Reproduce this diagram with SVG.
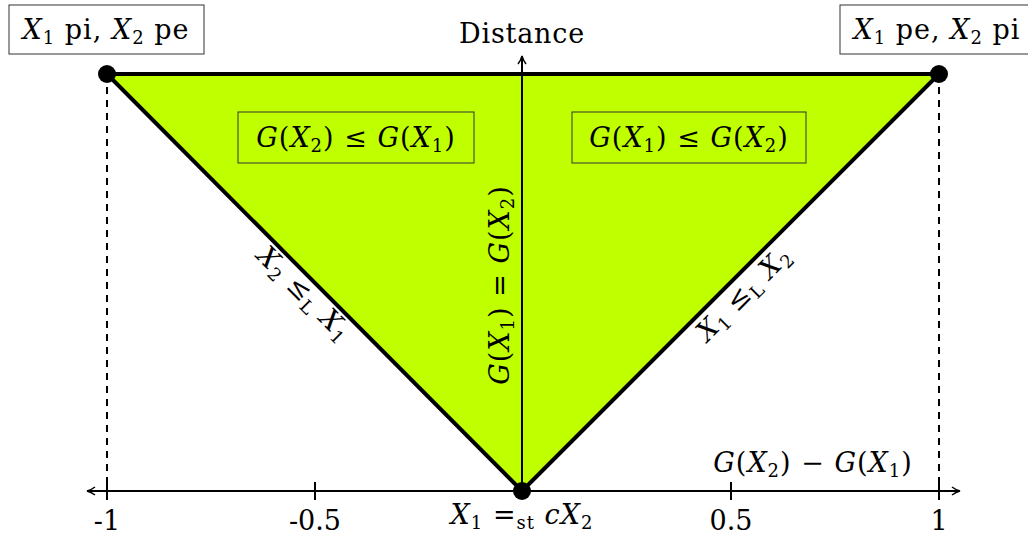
<svg xmlns="http://www.w3.org/2000/svg" width="1028" height="535" viewBox="0 0 1028 535">
<defs>
<marker id="arr" viewBox="0 0 10 10" refX="9" refY="5" markerWidth="10" markerHeight="10" markerUnits="userSpaceOnUse" orient="auto">
<path d="M1,1 Q5,4 9,5 Q5,6 1,9" fill="none" stroke="#000" stroke-width="1.5"/>
</marker>
</defs>
<style>
text{font-family:"DejaVu Serif","Liberation Serif",serif;fill:#000}
.t{font-size:27px}
.m{letter-spacing:1px}
.i{font-style:italic}
.s{font-size:18px}
.box{fill:none;stroke:#333;stroke-width:1}
.ax{stroke:#000;stroke-width:2;fill:none}
.dash{stroke:#000;stroke-width:2;stroke-dasharray:7,6;fill:none}
.dot{fill:#000}
</style>
<rect width="1028" height="535" fill="#fff"/>
<g id="triangle">
<polygon points="107,74 939,74 522,491" fill="#bfff00" stroke="#000" stroke-width="4" stroke-linejoin="round"/>
</g>
<g id="connectors">
<line class="dash" x1="107" y1="74" x2="107" y2="491"/>
<line class="dash" x1="939" y1="74" x2="939" y2="491"/>
<line class="ax" x1="522" y1="491" x2="522" y2="56" marker-end="url(#arr)"/>
<line class="ax" x1="522" y1="491" x2="960" y2="491" marker-end="url(#arr)"/>
<line class="ax" x1="522" y1="491" x2="87" y2="491" marker-end="url(#arr)"/>
<line class="ax" x1="107" y1="482" x2="107" y2="500"/>
<line class="ax" x1="315" y1="482" x2="315" y2="500"/>
<line class="ax" x1="731" y1="482" x2="731" y2="500"/>
<line class="ax" x1="939" y1="482" x2="939" y2="500"/>
</g>
<g id="ticks">
<text class="t" x="107" y="530" text-anchor="middle">-1</text>
<text class="t" x="315" y="530" text-anchor="middle">-0.5</text>
<text class="t" x="731" y="530" text-anchor="middle">0.5</text>
<text class="t" x="939" y="530" text-anchor="middle">1</text>
</g>
<g id="axis-labels">
<text class="t" x="522" y="43" text-anchor="middle" letter-spacing="0.8">Distance</text>
<text class="t m" x="813" y="472" text-anchor="middle"><tspan class="i">G</tspan>(<tspan class="i">X</tspan><tspan class="s" dy="5">2</tspan><tspan dy="-5">) − </tspan><tspan class="i">G</tspan>(<tspan class="i">X</tspan><tspan class="s" dy="5">1</tspan><tspan dy="-5">)</tspan></text>
</g>
<g id="node-left">
<rect class="box" x="9" y="5" width="195" height="49"/>
<text class="t m" x="106" y="39" text-anchor="middle"><tspan class="i">X</tspan><tspan class="s" dy="5">1</tspan><tspan dy="-5"> pi, </tspan><tspan class="i">X</tspan><tspan class="s" dy="5">2</tspan><tspan dy="-5"> pe</tspan></text>
<circle class="dot" cx="107" cy="74" r="9"/>
</g>
<g id="node-right">
<rect class="box" x="840" y="5" width="195" height="49"/>
<text class="t m" x="937" y="39" text-anchor="middle"><tspan class="i">X</tspan><tspan class="s" dy="5">1</tspan><tspan dy="-5"> pe, </tspan><tspan class="i">X</tspan><tspan class="s" dy="5">2</tspan><tspan dy="-5"> pi</tspan></text>
<circle class="dot" cx="939" cy="74" r="9"/>
</g>
<g id="node-bottom">
<circle class="dot" cx="522" cy="491" r="9"/>
<text class="t m" x="522" y="524" text-anchor="middle"><tspan class="i">X</tspan><tspan class="s" dy="5">1</tspan><tspan dy="-5"> =</tspan><tspan class="s" dy="5">st</tspan><tspan class="i" dy="-5"> cX</tspan><tspan class="s" dy="5">2</tspan></text>
</g>
<g id="region-left">
<rect class="box" x="238" y="112" width="236" height="51"/>
<text class="t m" x="356" y="147" text-anchor="middle"><tspan class="i">G</tspan>(<tspan class="i">X</tspan><tspan class="s" dy="5">2</tspan><tspan dy="-5">) ≤ </tspan><tspan class="i">G</tspan>(<tspan class="i">X</tspan><tspan class="s" dy="5">1</tspan><tspan dy="-5">)</tspan></text>
</g>
<g id="region-right">
<rect class="box" x="572" y="112" width="234" height="51"/>
<text class="t m" x="689" y="147" text-anchor="middle"><tspan class="i">G</tspan>(<tspan class="i">X</tspan><tspan class="s" dy="5">1</tspan><tspan dy="-5">) ≤ </tspan><tspan class="i">G</tspan>(<tspan class="i">X</tspan><tspan class="s" dy="5">2</tspan><tspan dy="-5">)</tspan></text>
</g>
<g id="edge-labels">
<text class="t m" transform="translate(298,300) rotate(45)" text-anchor="middle"><tspan class="i">X</tspan><tspan class="s" dy="5">2</tspan><tspan dy="-5"> ≤</tspan><tspan class="s" dy="5">L</tspan><tspan class="i" dy="-5"> X</tspan><tspan class="s" dy="5">1</tspan></text>
<text class="t m" transform="translate(750,300) rotate(-45)" text-anchor="middle"><tspan class="i">X</tspan><tspan class="s" dy="5">1</tspan><tspan dy="-5"> ≤</tspan><tspan class="s" dy="5">L</tspan><tspan class="i" dy="-5"> X</tspan><tspan class="s" dy="5">2</tspan></text>
<text class="t m" transform="translate(509,285) rotate(-90)" text-anchor="middle"><tspan class="i">G</tspan>(<tspan class="i">X</tspan><tspan class="s" dy="5">1</tspan><tspan dy="-5">) = </tspan><tspan class="i">G</tspan>(<tspan class="i">X</tspan><tspan class="s" dy="5">2</tspan><tspan dy="-5">)</tspan></text>
</g>
</svg>
